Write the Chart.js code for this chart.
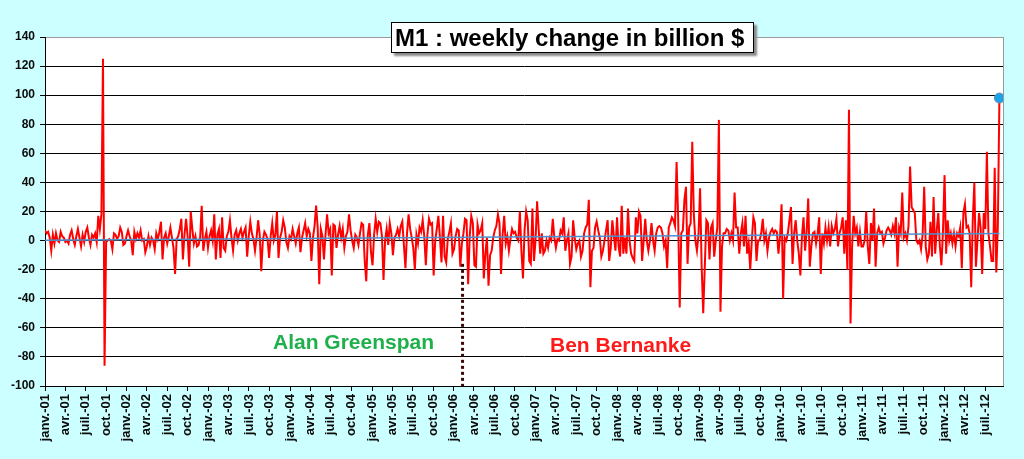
<!DOCTYPE html>
<html><head><meta charset="utf-8">
<script src="https://cdn.jsdelivr.net/npm/chart.js@4.4.0/dist/chart.umd.min.js"></script>
<style>
html,body{margin:0;padding:0;background:#CCFFFF;}
#wrap{position:relative;width:1024px;height:459px;}
#title{position:absolute;left:391px;top:22px;width:358px;height:29px;border:1px solid #000;background:#fff;box-shadow:3px 3px 2px #8a8a8a;font:bold 24px 'Liberation Sans',Arial,sans-serif;line-height:29px;padding-left:3px;white-space:nowrap;color:#000;}
.note{position:absolute;font:bold 21px 'Liberation Sans',Arial,sans-serif;white-space:nowrap;}
</style></head>
<body><div id="wrap"><canvas id="c"></canvas>
<div id="title">M1 : weekly change in billion $</div>
<div class="note" style="left:273px;top:330px;color:#1FB04C">Alan Greenspan</div>
<div class="note" style="left:550px;top:333px;color:#FF1A1A">Ben Bernanke</div>
</div>
<script>
const startDate = '2001-01-01';
const weekStep = 7;
const y2001 = [7,5,6,2,-7,4,-2,5,0,-1, 6,3,2,-1,0,-2,4,7,1,-3, 3,8,2,-4,4,-1,6,9,2,-3, 4,2,5,-1,17,8,18,125,-86,-1, 0,1,0,-6,5,4,1,3,9,6, -3,-2,3];
const y2002 = [7,3,0,-10,6,1,5,2,7,0, 1,-8,-4,3,-3,2,0,-6,5,1, 6,13,-13,2,5,-2,3,9,2,-5, -23,1,3,8,15,-13,4,15,3,-18, 20,8,-2,3,-4,-3,2,24,-7,1, 6,-5];
const y2003 = [3,7,0,18,-13,4,8,-12,16,-5, -7,3,6,14,2,-7,4,7,0,5, 8,2,6,9,-11,3,13,5,1,-7, 2,14,4,-21,0,6,4,1,-12,3, 12,0,4,20,-12,2,6,14,9,-1, -5,3];
const y2004 = [1,8,3,-2,5,9,-8,2,7,12, 3,8,5,-14,2,10,24,9,-30,8, 3,-13,4,18,5,8,-24,11,10,-5, 4,10,2,8,-5,3,6,18,7,0, -5,4,2,-3,5,12,11,-14,-28,4, 12,-8];
const y2005 = [-17,4,15,6,13,12,3,-27,0,8, -3,12,5,-10,2,4,8,3,10,13, -3,-19,5,18,8,2,-5,-20,4,-2, 9,6,14,3,-17,4,15,11,12,-24, 0,8,17,2,-15,17,-11,-15,1,6, 12,-9];
const y2006 = [-6,3,8,7,-18,-2,5,15,14,-30, 3,17,12,-17,-18,11,5,7,12,-26, -9,2,-31,-10,-7,2,7,10,18,12, -23,4,17,-2,3,-7,1,8,5,6, 2,0,20,-7,-26,7,20,14,-14,-16, 22,-14];
const y2007 = [0,27,8,-9,5,-9,-7,0,-5,2, 0,15,2,-5,1,0,7,5,16,-7, 0,5,-16,-11,14,2,-6,-2,0,-11, -7,5,9,11,28,-32,-7,-5,9,13, 7,2,-11,-7,0,7,14,-14,-5,14, 3,-7,16];
const y2008 = [-4,-11,24,-9,2,-9,22,0,-9,-12, -14,16,5,20,17,-14,0,15,0,-7, 0,12,0,-7,5,9,10,9,5,-4, 0,-19,9,12,16,14,10,54,16,-46, 5,7,28,37,-16,9,12,68,18,0, -7,4];
const y2009 = [36,-18,-50,-18,14,12,-13,9,12,-11, 0,9,83,-49,-4,5,5,8,7,0, 5,0,33,9,9,-9,5,12,-4,17, -9,-2,-20,0,16,12,-14,0,0,5, 15,0,5,-7,2,6,8,5,7,6, -9,3];
const y2010 = [25,-40,2,0,5,14,23,-16,5,14, 0,-9,-24,3,16,-7,6,29,-18,-4, 5,6,-2,5,16,-23,5,-2,9,0, 9,-4,10,5,8,15,-4,5,9,16, -9,14,-20,90,-57,-4,17,5,9,-4, 6,-4];
const y2011 = [-4,0,20,-4,-16,12,0,22,-18,5, 9,5,6,-2,2,7,9,7,4,10, 5,16,-18,9,5,33,2,5,0,10, 51,23,21,19,0,-2,0,-6,4,37, -4,-13,-9,13,-11,30,-9,7,19,-4, -17,7];
const y2012 = [45,-9,14,0,5,-2,5,-4,5,3, 9,-19,19,25,9,10,5,-32,14,40, -18,0,19,9,-23,19,8,61,5,-4, -14,-14,50,-22,10,98];
const quarterLabels = ['janv.-01','avr.-01','juil.-01','oct.-01','janv.-02','avr.-02','juil.-02','oct.-02','janv.-03','avr.-03','juil.-03','oct.-03','janv.-04','avr.-04','juil.-04','oct.-04','janv.-05','avr.-05','juil.-05','oct.-05','janv.-06','avr.-06','juil.-06','oct.-06','janv.-07','avr.-07','juil.-07','oct.-07','janv.-08','avr.-08','juil.-08','oct.-08','janv.-09','avr.-09','juil.-09','oct.-09','janv.-10','avr.-10','juil.-10','oct.-10','janv.-11','avr.-11','juil.-11','oct.-11','janv.-12','avr.-12','juil.-12'];
const trendStart = 0.3, trendEnd = 4.8;
const bernankeDate = '2006-02-09';
const bernankeTop = -16;
const axisEndDate = '2012-09-19';
const yMin = -100, yMax = 140, yStep = 20;

const DAY = 86400000;
const t0 = Date.parse(startDate);
const dayOf = s => (Date.parse(s) - t0) / DAY;
const m1 = [].concat(y2001,y2002,y2003,y2004,y2005,y2006,y2007,y2008,y2009,y2010,y2011,y2012);
const points = m1.map((v,i) => ({x: i*weekStep, y: v}));
const lastPt = points[points.length-1];
const quarterDays = quarterLabels.map((l,k) => (Date.UTC(2001 + Math.floor(k/4), 3*(k%4), 1) - t0) / DAY);
const bDay = dayOf(bernankeDate);

Chart.defaults.font.family = "'Liberation Sans', Arial, sans-serif";
Chart.defaults.font.weight = 'bold';
Chart.defaults.font.size = 12;
Chart.defaults.color = '#0a0a0a';

const plotBg = {
  id: 'plotBg',
  beforeDraw(chart){
    const {ctx, chartArea: a} = chart;
    ctx.save(); ctx.fillStyle = '#fff';
    ctx.fillRect(a.left, a.top, a.right - a.left, a.bottom - a.top);
    ctx.restore();
  },
  beforeDatasetsDraw(chart){
    const {ctx, chartArea: a} = chart;
    ctx.save(); ctx.strokeStyle = '#999'; ctx.lineWidth = 1;
    ctx.beginPath(); ctx.moveTo(Math.round(a.right)+0.5, a.top); ctx.lineTo(Math.round(a.right)+0.5, a.bottom); ctx.stroke();
    ctx.restore();
  }
};

new Chart(document.getElementById('c'), {
  type: 'line',
  data: { datasets: [
    {label:'last', data:[lastPt], showLine:false, pointRadius:5, pointBackgroundColor:'#1AA3E8', pointBorderColor:'#6D8FA8', pointBorderWidth:1, order:-1},
    {label:'trend', data:[{x:0,y:trendStart},{x:lastPt.x,y:trendEnd}], borderColor:'#4A90D0', borderWidth:1.5, pointRadius:0, order:0},
    {label:'Bernanke', data:[{x:bDay,y:bernankeTop},{x:bDay,y:yMin}], borderColor:'#3B0B0B', borderWidth:3, borderDash:[3,3], pointRadius:0, order:1},
    {label:'M1', data:points, borderColor:'#FF0000', borderWidth:2, pointRadius:0, tension:0, order:2}
  ]},
  options: {
    responsive:true, maintainAspectRatio:false, animation:false,
    layout:{padding:{top:37, right:21, left:0, bottom:0}},
    plugins:{legend:{display:false}, tooltip:{enabled:false}},
    scales:{
      x:{type:'linear', min:0, max:dayOf(axisEndDate),
        afterBuildTicks: s => { s.ticks = quarterDays.map(v => ({value:v})); },
        afterFit: s => { s.height = 73; },
        grid:{drawOnChartArea:false, drawTicks:true, tickLength:5, color:'#000'},
        border:{color:'#000', width:1},
        ticks:{autoSkip:false, minRotation:90, maxRotation:90, padding:3, callback:(v,i) => quarterLabels[i], font:{size:13, weight:'bold'}}},
      y:{min:yMin, max:yMax,
        afterFit: s => { s.width = 45; },
        ticks:{stepSize:yStep, padding:5, font:{size:12, weight:'bold'}},
        grid:{color: c => (c.tick && c.tick.value === yMax) ? '#999' : '#000', tickColor:'#000', tickLength:5, lineWidth:1},
        border:{color:'#000', width:1}}
    }
  },
  plugins:[plotBg]
});
</script>
</body></html>
